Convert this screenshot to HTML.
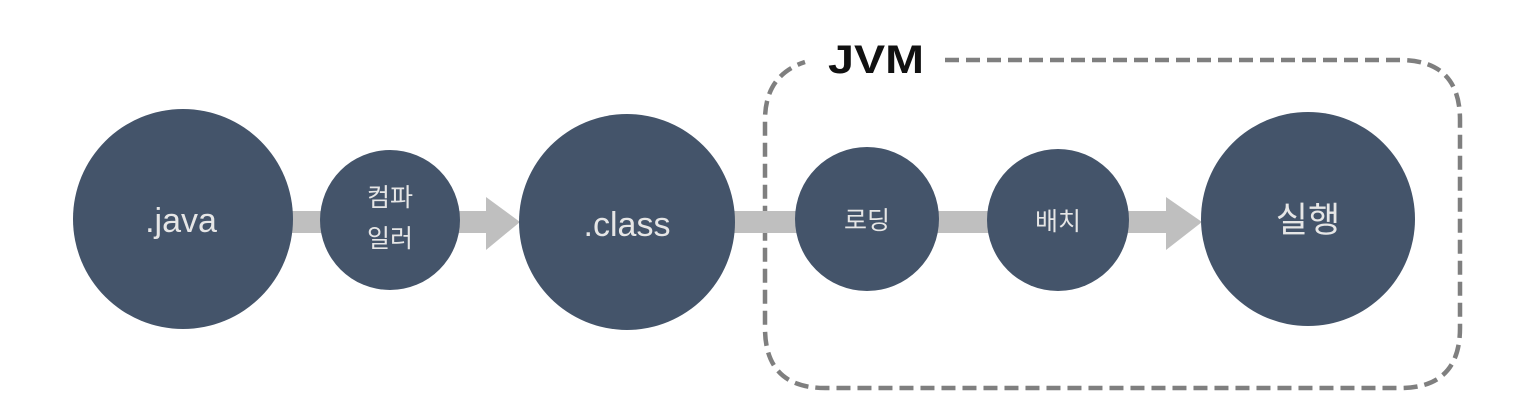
<!DOCTYPE html>
<html><head><meta charset="utf-8"><style>
html,body{margin:0;padding:0;background:#fff;width:1530px;height:415px;overflow:hidden}
</style></head><body>
<svg width="1530" height="415" viewBox="0 0 1530 415" xmlns="http://www.w3.org/2000/svg">
<rect x="0" y="0" width="1530" height="415" fill="#fff"/>
<path d="M945 60 L1400 60 Q1460 60 1460 120 L1460 328 Q1460 388 1400 388 L825 388 Q765 388 765 328 L765 120 Q765 75 805 62" fill="none" stroke="#7f7f7f" stroke-width="4.5" stroke-dasharray="14 7"/>
<text x="828" y="73" font-family="'Liberation Sans',sans-serif" font-weight="bold" font-size="40" fill="#111" textLength="96" lengthAdjust="spacingAndGlyphs">JVM</text>
<rect x="285" y="211" width="205" height="22" fill="#bfbfbf"/>
<polygon points="486,197 520,222 486,250" fill="#bfbfbf"/>
<rect x="730" y="211" width="440" height="22" fill="#bfbfbf"/>
<polygon points="1166,197 1202,222 1166,250" fill="#bfbfbf"/>
<g fill="#44546a">
<circle cx="183" cy="219" r="110"/>
<circle cx="390" cy="220" r="70"/>
<circle cx="627" cy="222" r="108"/>
<circle cx="867" cy="219" r="72"/>
<circle cx="1058" cy="220" r="71"/>
<circle cx="1308" cy="219" r="107"/>
</g>
<g fill="#e6e6e6" font-family="'Liberation Sans','Noto Sans CJK KR',sans-serif" text-anchor="middle">
<text x="181" y="232" font-size="34">.java</text>
<text x="390" y="206" font-size="25">컴파</text>
<text x="390" y="247" font-size="25">일러</text>
<text x="627" y="236" font-size="34">.class</text>
<text x="867" y="229" font-size="25">로딩</text>
<text x="1058" y="230" font-size="25">배치</text>
<text x="1308" y="232" font-size="35">실행</text>
</g>
</svg>
</body></html>
